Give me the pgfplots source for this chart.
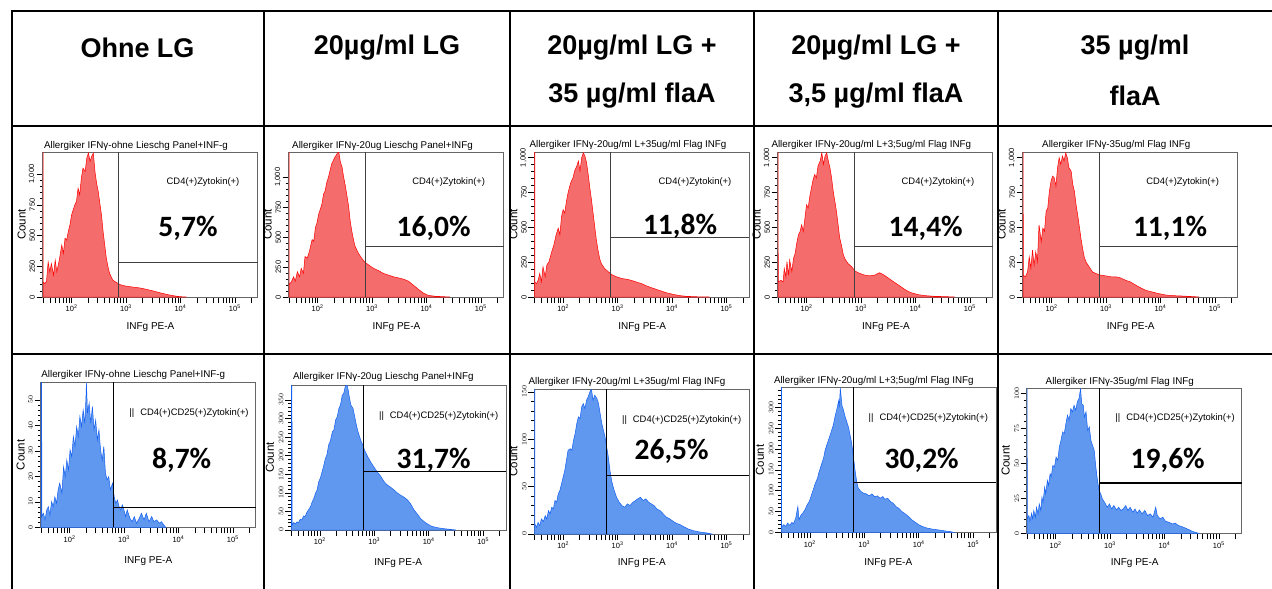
\documentclass[border=0pt]{standalone}
\usepackage{fontspec}
\setmainfont{Liberation Sans}
\newfontfamily\pctfont{Carlito}
\usepackage{pgfplots}
\pgfplotsset{compat=1.18}
\definecolor{redfill}{RGB}{244,108,108}
\definecolor{redline}{RGB}{255,0,0}
\definecolor{bluefill}{RGB}{96,152,240}
\definecolor{blueline}{RGB}{20,96,240}
\pgfplotsset{
 facs/.style={
  scale only axis, width=215pt, height=145pt, anchor=north west,
  xmin=1.47, xmax=5.42, ymin=0,
  clip mode=individual,
  axis line style={draw=black!60, line width=0.7pt},
  tick align=outside, tick pos=left,
  major tick length=6pt, minor tick length=3pt,
  tick style={black, line width=0.45pt},
  xtick={1.477,1.602,1.699,1.778,1.845,1.903,1.954,2,2.301,2.477,2.602,2.699,2.778,2.845,2.903,2.954,3,3.301,3.477,3.602,3.699,3.778,3.845,3.903,3.954,4,4.301,4.477,4.602,4.699,4.778,4.845,4.903,4.954,5,5.301},
  xticklabels={,,,,,,,{10\textsuperscript{2}},,,,,,,,,{10\textsuperscript{3}},,,,,,,,,{10\textsuperscript{4}},,,,,,,,,{10\textsuperscript{5}},},
  ticklabel style={font=\fontsize{7.5}{8}\selectfont},
  yticklabel style={rotate=90, anchor=south, inner sep=1.5pt},
  xticklabel style={inner sep=2pt},
  minor y tick num=4,
 },
 red hist/.style={draw=redline, fill=redfill, line width=0.5pt},
 blue hist/.style={draw=blueline, fill=bluefill, line width=0.5pt},
}
\tikzset{
 gateA/.style={draw=black!75, line width=0.7pt},
 gateB/.style={draw=black, line width=1.4pt},
 hdr/.style={font=\fontsize{27}{30}\selectfont\bfseries},
 pct/.style={font=\pctfont\bfseries\fontsize{29.5}{31}\selectfont},
 ttl/.style={font=\fontsize{9.8}{11}\selectfont},
 glab/.style={font=\fontsize{9.4}{10}\selectfont},
 cnt/.style={font=\fontsize{11.5}{12}\selectfont, rotate=90},
 xl/.style={font=\fontsize{10}{11}\selectfont},
}
\begin{document}
\begin{tikzpicture}
\path[use as bounding box] (0pt,0pt) rectangle (1272pt,-589pt);
\fill[white] (0pt,0pt) rectangle (1272pt,-589pt);

% ---------------- Row 2 (red) ----------------
\begin{axis}[facs, at={(42.7pt,-152pt)}, ymax=1179, ytick={0,250,500,750,1000}, yticklabels={0,250,500,750,{1,000}}]
\addplot[red hist] coordinates {(1.478,9000)(1.48,122)(1.51,109)(1.54,128)(1.57,286)(1.60,204)(1.63,272)(1.67,177)(1.70,300)(1.73,204)(1.78,313)(1.82,422)(1.85,354)(1.88,477)(1.91,463)(1.94,531)(1.97,585)(2.00,667)(2.03,708)(2.06,749)(2.09,776)(2.12,885)(2.15,830)(2.18,967)(2.21,1048)(2.25,1021)(2.28,1130)(2.31,1171)(2.34,1103)(2.37,1144)(2.40,1171)(2.43,1021)(2.46,926)(2.49,858)(2.52,762)(2.55,667)(2.58,531)(2.61,422)(2.64,313)(2.67,245)(2.70,191)(2.76,136)(2.83,117)(2.89,101)(2.98,90)(3.07,84)(3.16,79)(3.25,74)(3.37,63)(3.50,49)(3.62,35)(3.74,22)(3.86,11)(3.99,3)(4.11,0)} \closedcycle;
\draw[gateA] (axis cs:2.867,0) -- (axis cs:2.867,1179);
\draw[gateA] (axis cs:2.867,283) -- (axis cs:5.42,283);
\end{axis}

\begin{axis}[facs, at={(288.7pt,-152pt)}, ymax=1210, ytick={0,250,500,750,1000}, yticklabels={0,250,500,750,{1,000}}]
\addplot[red hist] coordinates {(1.478,9000)(1.48,104)(1.52,127)(1.56,169)(1.59,132)(1.63,211)(1.67,169)(1.70,239)(1.74,197)(1.77,338)(1.81,324)(1.85,380)(1.90,479)(1.93,464)(1.96,577)(1.99,619)(2.02,690)(2.05,732)(2.08,774)(2.11,859)(2.14,887)(2.17,957)(2.20,999)(2.23,1056)(2.26,1112)(2.29,1140)(2.32,1168)(2.36,1196)(2.39,1210)(2.42,1126)(2.45,1084)(2.48,999)(2.51,929)(2.54,845)(2.57,760)(2.60,633)(2.63,549)(2.66,479)(2.69,422)(2.75,366)(2.81,324)(2.87,290)(2.94,267)(3.03,239)(3.12,220)(3.21,197)(3.30,183)(3.39,169)(3.48,160)(3.58,149)(3.67,132)(3.76,99)(3.85,65)(3.94,34)(4.03,14)(4.16,6)(4.31,3)(4.43,0)} \closedcycle;
\draw[gateA] (axis cs:2.874,0) -- (axis cs:2.874,1210);
\draw[gateA] (axis cs:2.874,422) -- (axis cs:5.42,422);
\end{axis}

\begin{axis}[facs, at={(534.3pt,-152pt)}, ymax=1041, ytick={0,250,500,750,1000}, yticklabels={0,250,500,750,{1,000}}]
\addplot[red hist] coordinates {(1.478,9000)(1.48,108)(1.51,96)(1.54,120)(1.57,169)(1.60,108)(1.63,217)(1.67,145)(1.70,229)(1.74,253)(1.79,325)(1.83,374)(1.87,446)(1.91,494)(1.94,446)(1.97,578)(2.00,627)(2.03,602)(2.06,687)(2.09,747)(2.12,795)(2.15,831)(2.18,855)(2.21,904)(2.25,940)(2.28,976)(2.31,904)(2.34,1000)(2.37,1036)(2.40,1012)(2.43,964)(2.46,880)(2.49,783)(2.52,699)(2.55,602)(2.58,506)(2.61,410)(2.64,337)(2.67,277)(2.70,241)(2.76,205)(2.83,181)(2.89,161)(2.98,145)(3.07,133)(3.16,128)(3.25,120)(3.34,108)(3.44,96)(3.53,80)(3.62,67)(3.71,55)(3.80,43)(3.89,31)(4.02,19)(4.14,10)(4.26,5)(4.44,2)(4.69,0)} \closedcycle;
\draw[gateA] (axis cs:2.874,0) -- (axis cs:2.874,1041);
\draw[gateA] (axis cs:2.874,427) -- (axis cs:5.42,427);
\end{axis}

\begin{axis}[facs, at={(777.7pt,-152pt)}, ymax=1041, ytick={0,250,500,750,1000}, yticklabels={0,250,500,750,{1,000}}]
\addplot[red hist] coordinates {(1.478,9000)(1.48,108)(1.53,120)(1.57,108)(1.59,205)(1.62,145)(1.64,253)(1.67,157)(1.69,265)(1.73,181)(1.76,277)(1.79,313)(1.82,386)(1.85,446)(1.88,470)(1.91,518)(1.94,470)(1.97,566)(2.00,663)(2.03,639)(2.06,723)(2.09,783)(2.12,843)(2.15,880)(2.18,855)(2.21,940)(2.25,976)(2.28,1036)(2.31,952)(2.34,1012)(2.37,1036)(2.40,976)(2.43,928)(2.46,855)(2.49,759)(2.52,687)(2.55,615)(2.58,518)(2.61,422)(2.64,374)(2.67,313)(2.70,277)(2.76,241)(2.83,217)(2.89,186)(2.98,169)(3.07,157)(3.16,152)(3.25,157)(3.34,174)(3.41,161)(3.47,145)(3.56,120)(3.65,96)(3.74,72)(3.83,48)(3.92,31)(4.05,17)(4.17,10)(4.35,5)(4.60,2)(4.72,0)} \closedcycle;
\draw[gateA] (axis cs:2.874,0) -- (axis cs:2.874,1041);
\draw[gateA] (axis cs:2.874,361) -- (axis cs:5.42,361);
\end{axis}

\begin{axis}[facs, at={(1022.7pt,-152pt)}, ymax=1041, ytick={0,250,500,750,1000}, yticklabels={0,250,500,750,{1,000}}]
\addplot[red hist] coordinates {(1.478,9000)(1.48,157)(1.52,145)(1.56,181)(1.59,289)(1.62,205)(1.65,337)(1.68,229)(1.71,325)(1.74,253)(1.77,518)(1.81,398)(1.84,494)(1.87,470)(1.90,615)(1.93,639)(1.96,759)(1.99,831)(2.02,868)(2.05,855)(2.08,795)(2.11,928)(2.14,1000)(2.17,952)(2.20,1012)(2.23,976)(2.26,1036)(2.29,1000)(2.32,928)(2.36,904)(2.39,807)(2.42,759)(2.45,663)(2.48,590)(2.51,506)(2.54,422)(2.57,349)(2.60,289)(2.63,253)(2.69,217)(2.75,181)(2.81,169)(2.90,157)(2.99,152)(3.09,145)(3.18,145)(3.27,137)(3.36,120)(3.45,108)(3.55,84)(3.64,65)(3.73,48)(3.85,36)(3.97,24)(4.10,14)(4.22,10)(4.40,7)(4.64,2)(4.71,0)} \closedcycle;
\draw[gateA] (axis cs:2.874,0) -- (axis cs:2.874,1041);
\draw[gateA] (axis cs:2.874,361) -- (axis cs:5.42,361);
\end{axis}

% ---------------- Row 3 (blue) ----------------
\begin{axis}[facs, at={(40.7pt,-382.3pt)}, ymax=56.9, ytick={0,10,20,30,40,50}]
\addplot[blue hist] coordinates {(1.478,500)(1.49,4.2)(1.52,5.5)(1.55,2.9)(1.58,6.8)(1.61,8.1)(1.64,4.8)(1.67,10.1)(1.70,8.1)(1.73,12.0)(1.76,9.4)(1.79,14.7)(1.82,17.3)(1.86,13.4)(1.89,23.8)(1.92,19.9)(1.95,26.4)(1.98,22.5)(2.01,30.4)(2.04,27.7)(2.07,35.6)(2.10,31.7)(2.13,39.5)(2.16,35.6)(2.19,43.5)(2.22,39.5)(2.25,46.1)(2.28,40.8)(2.30,50.0)(2.31,56.9)(2.33,44.8)(2.36,48.7)(2.39,40.8)(2.42,47.4)(2.45,38.2)(2.48,42.1)(2.51,34.3)(2.54,38.2)(2.57,30.4)(2.60,26.4)(2.63,31.7)(2.66,21.2)(2.69,18.6)(2.72,19.9)(2.75,14.7)(2.79,17.3)(2.82,12.0)(2.85,9.4)(2.88,10.7)(2.91,8.1)(2.94,6.8)(2.97,8.8)(3.00,6.8)(3.03,4.2)(3.06,6.8)(3.11,3.5)(3.15,2.2)(3.19,4.2)(3.23,1.6)(3.28,3.5)(3.32,5.5)(3.37,2.9)(3.41,5.5)(3.46,2.2)(3.51,4.2)(3.55,2.2)(3.60,2.9)(3.65,1.6)(3.69,2.2)(3.73,0.9)(3.77,0)} \closedcycle;
\draw[gateB] (axis cs:2.81,0) -- (axis cs:2.81,56.9);
\draw[gateB] (axis cs:2.81,7.85) -- (axis cs:5.42,7.85);
\end{axis}

\begin{axis}[facs, at={(291pt,-385pt)}, ymax=390, ytick={0,50,100,150,200,250,300,350}]
\addplot[blue hist] coordinates {(1.478,2000)(1.49,13)(1.52,20)(1.55,16)(1.58,22)(1.61,20)(1.64,29)(1.67,27)(1.70,38)(1.73,36)(1.76,47)(1.80,56)(1.83,63)(1.86,76)(1.89,85)(1.92,99)(1.95,108)(1.98,130)(2.01,140)(2.04,156)(2.07,172)(2.10,192)(2.13,202)(2.16,228)(2.19,238)(2.23,264)(2.26,270)(2.29,296)(2.32,305)(2.35,327)(2.38,337)(2.41,362)(2.44,368)(2.47,388)(2.50,390)(2.52,377)(2.54,359)(2.57,336)(2.61,327)(2.64,305)(2.67,283)(2.70,265)(2.73,251)(2.76,238)(2.79,229)(2.82,215)(2.85,206)(2.88,197)(2.93,184)(2.99,170)(3.05,157)(3.12,144)(3.18,130)(3.24,121)(3.30,115)(3.36,108)(3.42,100)(3.48,94)(3.55,88)(3.61,81)(3.67,70)(3.73,54)(3.79,43)(3.85,31)(3.92,22)(3.98,16)(4.04,11)(4.13,7)(4.25,4)(4.38,2)(4.50,0)} \closedcycle;
\draw[gateB] (axis cs:2.797,0) -- (axis cs:2.797,390);
\draw[gateB] (axis cs:2.797,157) -- (axis cs:5.42,157);
\end{axis}

\begin{axis}[facs, at={(534.3pt,-389pt)}, ymax=153, ytick={0,50,100,150}]
\addplot[blue hist] coordinates {(1.478,900)(1.48,10.6)(1.51,7.1)(1.54,12.4)(1.57,8.8)(1.60,15.9)(1.64,13.4)(1.67,19.4)(1.70,15.9)(1.73,24.7)(1.76,21.2)(1.79,28.2)(1.82,26.5)(1.85,35.3)(1.88,33.5)(1.91,42.4)(1.94,45.9)(1.97,53.0)(2.00,60.0)(2.03,67.1)(2.06,77.7)(2.09,88.3)(2.13,90.0)(2.16,88.3)(2.19,98.8)(2.22,105.9)(2.25,116.5)(2.28,123.6)(2.31,121.8)(2.34,134.1)(2.37,137.7)(2.40,132.4)(2.43,141.2)(2.46,144.7)(2.49,150.0)(2.52,152.8)(2.55,141.2)(2.58,146.5)(2.62,143.0)(2.65,137.7)(2.68,127.1)(2.71,116.5)(2.74,109.4)(2.77,102.4)(2.80,91.8)(2.83,81.2)(2.86,67.1)(2.89,56.5)(2.92,49.4)(2.95,44.1)(2.98,38.8)(3.03,33.5)(3.08,30.0)(3.13,28.2)(3.18,31.8)(3.23,30.0)(3.28,33.5)(3.33,35.3)(3.37,37.1)(3.42,38.8)(3.47,35.3)(3.52,37.1)(3.57,33.5)(3.62,31.8)(3.67,30.0)(3.72,26.5)(3.78,24.7)(3.84,21.2)(3.90,17.7)(3.96,15.9)(4.02,13.4)(4.08,11.3)(4.15,9.9)(4.21,7.8)(4.30,5.3)(4.39,3.5)(4.51,2.1)(4.64,1.1)(4.73,0)} \closedcycle;
\draw[gateB] (axis cs:2.80,0) -- (axis cs:2.80,153);
\draw[gateB] (axis cs:2.80,61.8) -- (axis cs:5.42,61.8);
\end{axis}

\begin{axis}[facs, at={(781pt,-387.3pt)}, ymax=348, ytick={0,50,100,150,200,250,300,350}]
\addplot[blue hist] coordinates {(1.478,3000)(1.48,12.7)(1.52,18.3)(1.56,14.3)(1.59,22.2)(1.63,16.7)(1.67,23.8)(1.70,20.6)(1.74,34.1)(1.78,61.9)(1.80,30.2)(1.84,42.1)(1.87,46.1)(1.91,54.0)(1.95,65.9)(1.99,73.8)(2.02,85.8)(2.06,101.6)(2.10,117.5)(2.14,129.4)(2.17,145.3)(2.21,161.2)(2.25,177.1)(2.28,196.9)(2.32,212.8)(2.35,224.7)(2.39,240.6)(2.43,256.5)(2.46,276.3)(2.49,292.2)(2.53,316.0)(2.54,300.1)(2.56,346.2)(2.59,304.1)(2.62,292.2)(2.65,276.3)(2.68,264.4)(2.71,252.5)(2.74,232.6)(2.77,212.8)(2.80,181.0)(2.83,149.3)(2.86,121.5)(2.89,105.6)(2.94,97.7)(2.99,93.7)(3.04,92.1)(3.09,87.3)(3.14,92.1)(3.19,85.8)(3.24,87.3)(3.29,81.8)(3.34,85.8)(3.38,79.4)(3.43,81.8)(3.48,73.8)(3.53,69.9)(3.58,61.9)(3.63,58.0)(3.69,50.0)(3.75,44.5)(3.81,38.1)(3.87,30.2)(3.94,23.8)(4.00,18.3)(4.06,14.3)(4.15,10.3)(4.24,7.9)(4.37,5.6)(4.49,3.2)(4.58,1.6)(4.64,0)} \closedcycle;
\draw[gateB] (axis cs:2.80,0) -- (axis cs:2.80,348);
\draw[gateB] (axis cs:2.80,119) -- (axis cs:5.42,119);
\end{axis}

\begin{axis}[facs, at={(1026.7pt,-388.3pt)}, ymax=103.6, ytick={0,25,50,75,100}]
\addplot[blue hist] coordinates {(1.478,900)(1.48,10.3)(1.51,12.7)(1.53,8.6)(1.56,14.3)(1.58,10.3)(1.60,16.3)(1.63,11.5)(1.65,18.6)(1.68,13.9)(1.70,21.0)(1.73,16.3)(1.75,25.8)(1.77,22.2)(1.80,33.0)(1.82,28.2)(1.85,37.8)(1.87,34.2)(1.90,42.5)(1.92,40.2)(1.95,48.5)(1.98,47.3)(2.01,54.5)(2.04,52.1)(2.07,61.7)(2.10,66.4)(2.13,72.4)(2.16,71.2)(2.19,78.4)(2.22,84.4)(2.25,80.8)(2.28,89.1)(2.31,86.8)(2.34,91.5)(2.37,88.0)(2.40,93.9)(2.43,96.3)(2.46,103.5)(2.48,92.7)(2.51,91.5)(2.53,83.2)(2.56,86.8)(2.59,73.6)(2.62,76.0)(2.65,66.4)(2.68,62.9)(2.71,59.3)(2.74,47.3)(2.77,37.8)(2.80,30.6)(2.83,28.2)(2.86,24.6)(2.90,22.2)(2.95,18.6)(2.99,21.0)(3.03,17.4)(3.07,19.8)(3.12,16.7)(3.16,18.6)(3.20,16.3)(3.24,17.4)(3.29,19.8)(3.33,16.3)(3.37,18.6)(3.42,15.1)(3.46,17.4)(3.50,14.3)(3.54,16.7)(3.59,13.9)(3.64,16.3)(3.69,12.7)(3.74,13.9)(3.79,11.5)(3.84,18.6)(3.87,12.7)(3.92,10.3)(3.97,11.5)(4.02,8.6)(4.08,7.9)(4.14,6.7)(4.20,7.2)(4.26,5.5)(4.32,4.8)(4.38,3.8)(4.45,2.6)(4.51,1.4)(4.57,0.7)(4.63,0)} \closedcycle;
\draw[gateB] (axis cs:2.81,0) -- (axis cs:2.81,103.6);
\draw[gateB] (axis cs:2.81,35.9) -- (axis cs:5.42,35.9);
\end{axis}

\begin{scope}[x=1pt,y=1pt]
% ---------------- Table grid ----------------
\begin{scope}[line width=2pt, black]
\draw (11,-11) -- (1272,-11);
\draw (11,-125.5) -- (1272,-125.5);
\draw (11,-354) -- (1272,-354);
\foreach \xx in {11.5,264,510,754,998} \draw (\xx,-10) -- (\xx,-589);
\end{scope}

% ---------------- Header ----------------
\node[hdr] at (137.5,-48) {Ohne LG};
\node[hdr] at (387,-48) {20µg/ml LG};
\node[hdr] at (632,-48) {20µg/ml LG +};
\node[hdr] at (632,-96) {35 µg/ml flaA};
\node[hdr] at (876,-48) {20µg/ml LG +};
\node[hdr] at (876,-96) {3,5 µg/ml flaA};
\node[hdr] at (1135,-48) {35 µg/ml};
\node[hdr] at (1135,-96) {flaA};

% ---------------- Row 2 texts ----------------
\node[ttl] at (136,-145.7) {Allergiker IFNγ-ohne Lieschg Panel+INF-g};
\node[ttl] at (382.5,-145.7) {Allergiker IFNγ-20ug Lieschg Panel+INFg};
\node[ttl] at (628,-145) {Allergiker IFNγ-20ug/ml L+35ug/ml Flag INFg};
\node[ttl] at (871.3,-145) {Allergiker IFNγ-20ug/ml L+3;5ug/ml Flag INFg};
\node[ttl] at (1116.3,-145) {Allergiker IFNγ-35ug/ml Flag INFg};
\foreach \xx in {203,448.7,695,938,1182.7} \node[glab] at (\xx,-182.5) {CD4(+)Zytokin(+)};
\node[pct] at (188,-228) {5,7\%};
\node[pct] at (433.7,-228) {16,0\%};
\node[pct] at (680,-226.7) {11,8\%};
\node[pct] at (925.7,-228) {14,4\%};
\node[pct] at (1170,-228) {11,1\%};
\foreach \xx in {21.7,267.7,513.3,756.7,1001.7} \node[cnt] at (\xx,-224.5) {Count};
\foreach \xx in {150.5,396.5,642.2,886,1130.7} \node[xl] at (\xx,-326.7) {INFg PE-A};

% ---------------- Row 3 texts ----------------
\node[ttl] at (133.3,-375) {Allergiker IFNγ-ohne Lieschg Panel+INF-g};
\node[ttl] at (383.3,-377.3) {Allergiker IFNγ-20ug Lieschg Panel+INFg};
\node[ttl] at (627,-381.7) {Allergiker IFNγ-20ug/ml L+35ug/ml Flag INFg};
\node[ttl] at (873.8,-380.7) {Allergiker IFNγ-20ug/ml L+3;5ug/ml Flag INFg};
\node[ttl] at (1119.8,-381.7) {Allergiker IFNγ-35ug/ml Flag INFg};
\node[glab] at (189,-412.7) {||\hspace{6pt}CD4(+)CD25(+)Zytokin(+)};
\node[glab] at (438.7,-416) {||\hspace{6pt}CD4(+)CD25(+)Zytokin(+)};
\node[glab] at (681.7,-420) {||\hspace{6pt}CD4(+)CD25(+)Zytokin(+)};
\node[glab] at (928.3,-418.3) {||\hspace{6pt}CD4(+)CD25(+)Zytokin(+)};
\node[glab] at (1175,-418.3) {||\hspace{6pt}CD4(+)CD25(+)Zytokin(+)};
\node[pct] at (181.7,-460) {8,7\%};
\node[pct] at (433.7,-460) {31,7\%};
\node[pct] at (671.7,-451.7) {26,5\%};
\node[pct] at (921.7,-460) {30,2\%};
\node[pct] at (1167.7,-460) {19,6\%};
\node[cnt] at (20.7,-454.8) {Count};
\node[cnt] at (270,-457.5) {Count};
\node[cnt] at (513.3,-461.2) {Count};
\node[cnt] at (760,-460) {Count};
\node[cnt] at (1005.7,-460.5) {Count};
\node[xl] at (148.3,-560.7) {INFg PE-A};
\node[xl] at (398.2,-563.3) {INFg PE-A};
\node[xl] at (641.8,-563.3) {INFg PE-A};
\node[xl] at (888.3,-563.3) {INFg PE-A};
\node[xl] at (1134.7,-563.3) {INFg PE-A};
\end{scope}
\end{tikzpicture}
\end{document}
